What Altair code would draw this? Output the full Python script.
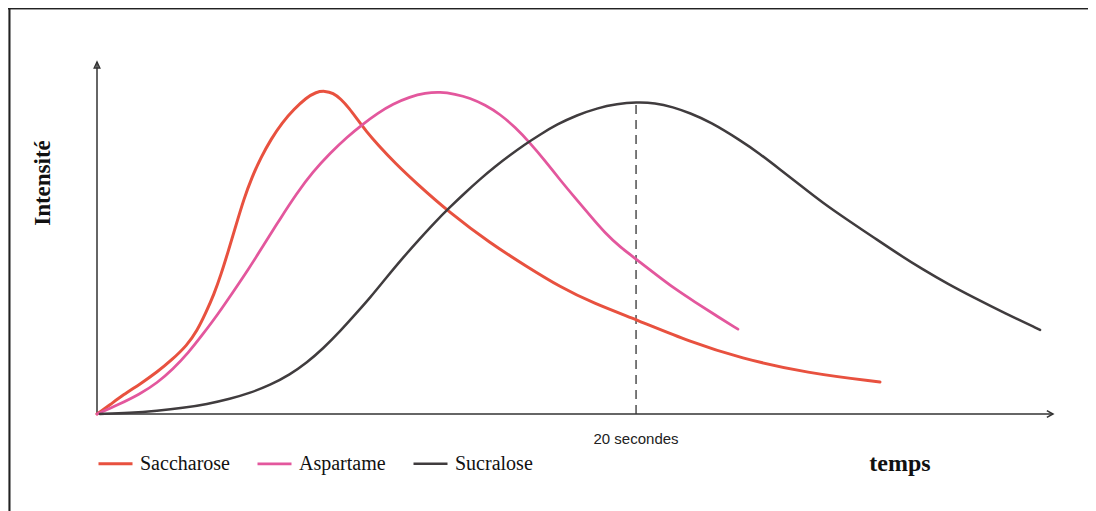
import altair as alt
import pandas as pd

# ---- data (x: seconds, y: relative intensity 0-100) ----
sacch_t = [0, 0.48, 0.96, 1.60, 2.23, 2.78, 3.34, 3.71, 4.04, 4.34, 4.60, 4.86, 5.16, 5.45, 5.75, 6.09,
           6.46, 6.86, 7.31, 7.76, 8.13, 8.46, 8.76, 9.05, 9.35, 9.65, 9.98, 10.43, 11.06, 11.80,
           13.10, 14.58, 15.96, 17.18, 18.40, 20.04, 22.0, 23.86, 26.35, 29.05]
sacch_i = [0, 2.6, 5.4, 8.5, 11.9, 15.4, 19.5, 23.6, 28.8, 34.0, 39.6, 46.0, 53.7, 61.1, 67.3, 73.0,
           78.1, 82.7, 86.6, 89.8, 91.5, 91.8, 91.2, 89.5, 86.9, 83.8, 80.4, 76.4, 71.3, 65.9,
           57.1, 48.6, 41.8, 36.1, 31.5, 26.7, 20.5, 15.9, 11.6, 9.1]

asp_t = [0, 0.78, 1.60, 2.23, 2.82, 3.38, 3.93, 4.49, 5.05, 5.60, 6.16, 6.79, 7.42, 8.01, 8.65, 9.28,
         9.87, 10.42, 10.98, 11.61, 12.17, 12.73, 13.28, 13.84, 14.40, 14.95, 15.51, 16.07, 16.63,
         17.18, 17.74, 18.30, 18.85, 19.41, 20.04, 20.71, 21.45, 22.19, 22.94, 23.78]
asp_i = [0, 2.6, 5.7, 8.8, 12.8, 17.3, 22.7, 28.4, 34.7, 40.9, 47.7, 55.4, 62.8, 68.8, 74.1, 78.7,
         82.4, 85.5, 88.1, 90.1, 91.2, 91.5, 90.9, 89.8, 87.8, 85.2, 81.5, 77.0, 71.9,
         66.5, 61.4, 56.3, 51.4, 47.4, 43.8, 39.8, 35.5, 31.8, 28.1, 24.1]

sucr_t = [0.11, 1.22, 2.23, 3.19, 4.08, 4.94, 5.68, 6.42, 7.16, 7.79, 8.39, 9.02, 9.57, 10.13, 10.72,
          11.35, 11.99, 12.54, 13.10, 13.65, 14.21, 14.77, 15.32, 15.88, 16.44, 17.07, 17.81, 18.55,
          19.30, 20.0, 20.71, 21.37, 22.0, 22.75, 23.86, 24.60, 25.34, 26.09, 26.94, 27.87, 28.79,
          29.72, 30.65, 31.58, 32.50, 33.69, 34.99]
sucr_i = [0, 0.3, 0.9, 1.7, 2.8, 4.3, 6.0, 8.2, 11.2, 14.6, 18.6, 23.5, 28.2, 33.0, 38.6,
          44.4, 49.9, 54.5, 58.8, 62.8, 66.7, 70.3, 73.5, 76.6, 79.4, 82.3, 84.9, 86.9,
          88.1, 88.6, 88.4, 87.2, 85.5, 83.0, 77.8, 73.9, 69.5, 65.0, 59.9, 55.0, 50.3,
          45.5, 41.0, 36.9, 33.2, 28.6, 23.9]

series_names = ["Saccharose", "Aspartame", "Sucralose"]
series_colors = ["#e8513f", "#e3579d", "#403c3e"]
series_widths = [3.0, 2.5, 3.5]

x_max = 35.47
y_max = 100.0
marker_time = [20.0]
marker_peak = [88.6]
marker_label = ["20 secondes"]

rows = []
for name, ts, vs in zip(series_names, [sacch_t, asp_t, sucr_t], [sacch_i, asp_i, sucr_i]):
    for t, v in zip(ts, vs):
        rows.append({"temps": t, "intensite": v, "serie": name})
df = pd.DataFrame(rows)

W, H = 1080, 503
xs = alt.Scale(domain=[0, x_max], range=[89, 1045], nice=False, zero=False)
ys = alt.Scale(domain=[0, y_max], range=[406, 54], nice=False, zero=False)

lines = alt.Chart(df).mark_line(interpolate="basis", strokeCap="round", strokeJoin="round").encode(
    x=alt.X("temps:Q", scale=xs, axis=None),
    y=alt.Y("intensite:Q", scale=ys, axis=None),
    color=alt.Color(
        "serie:N",
        scale=alt.Scale(domain=series_names, range=series_colors),
        legend=alt.Legend(
            orient="none", legendX=89, legendY=437, direction="horizontal",
            title=None, symbolType="stroke", symbolSize=1156, symbolStrokeWidth=3,
            labelFont="Liberation Serif", labelFontSize=20, labelColor="#111111",
            labelOffset=6, columnPadding=22, padding=0,
        ),
    ),
    strokeWidth=alt.StrokeWidth(
        "serie:N", scale=alt.Scale(domain=series_names, range=series_widths), legend=None
    ),
    detail="serie:N",
)

# axes with arrows
axes_df = pd.DataFrame({
    "x1": [0.0, 0.0], "x2": [x_max, 0.0],
    "y1": [0.0, 0.0], "y2": [0.0, y_max],
})
axes = alt.Chart(axes_df).mark_rule(color="#333333", strokeWidth=1.5).encode(
    x=alt.X("x1:Q", scale=xs, axis=None), x2="x2:Q",
    y=alt.Y("y1:Q", scale=ys, axis=None), y2="y2:Q",
)
arrow_df = pd.DataFrame({
    "x": [x_max, 0.0], "y": [0.0, y_max],
    "shape": ["M-1,-0.55L0,0L-1,0.55", "M-0.45,1L0,0L0.45,1Z"],
})
arrows = alt.Chart(arrow_df).mark_point(filled=False, color="#333333", strokeWidth=1.5, size=150, opacity=1).encode(
    x=alt.X("x:Q", scale=xs, axis=None),
    y=alt.Y("y:Q", scale=ys, axis=None),
    shape=alt.Shape("shape:N", scale=None, legend=None),
)

# dashed marker at 20 s
marker_df = pd.DataFrame({"t": marker_time, "top": marker_peak, "zero": [0.0], "label": marker_label})
dash = alt.Chart(marker_df).mark_rule(color="#333333", strokeWidth=1.3, strokeDash=[9, 6]).encode(
    x=alt.X("t:Q", scale=xs, axis=None),
    y=alt.Y("zero:Q", scale=ys, axis=None), y2="top:Q",
)
dash_label = alt.Chart(marker_df).mark_text(
    font="Liberation Sans", fontSize=15, color="#222222", dy=25, baseline="middle"
).encode(
    x=alt.X("t:Q", scale=xs, axis=None),
    y=alt.Y("zero:Q", scale=ys, axis=None),
    text="label:N",
)

# axis titles
title_df = pd.DataFrame({"label": ["temps"]})
x_title = alt.Chart(title_df).mark_text(
    font="Liberation Serif", fontWeight="bold", fontSize=24, color="#111111", baseline="middle"
).encode(x=alt.value(892), y=alt.value(456), text="label:N")

ytitle_df = pd.DataFrame({"label": ["Intensité"]})
y_title = alt.Chart(ytitle_df).mark_text(
    font="Liberation Serif", fontWeight="bold", fontSize=23, color="#111111", angle=270, baseline="middle"
).encode(x=alt.value(35), y=alt.value(175), text="label:N")

# outer frame
frame_df = pd.DataFrame({"k": ["left", "top"]})
frame_left = alt.Chart(frame_df).mark_rule(color="#222222", strokeWidth=1.6).encode(
    x=alt.value(1.5), y=alt.value(0), y2=alt.value(H)
)
frame_top = alt.Chart(frame_df).mark_rule(color="#222222", strokeWidth=1.6).encode(
    x=alt.value(0), x2=alt.value(W), y=alt.value(0.5)
)

chart = alt.layer(
    frame_left, frame_top, axes, arrows, dash, lines, dash_label, x_title, y_title
).properties(
    width=W, height=H, autosize=alt.AutoSizeParams(type="none"), padding=0
).configure_view(stroke=None).configure(background="white")

chart.save("out.html", embed_options={"renderer": "svg", "actions": False})
